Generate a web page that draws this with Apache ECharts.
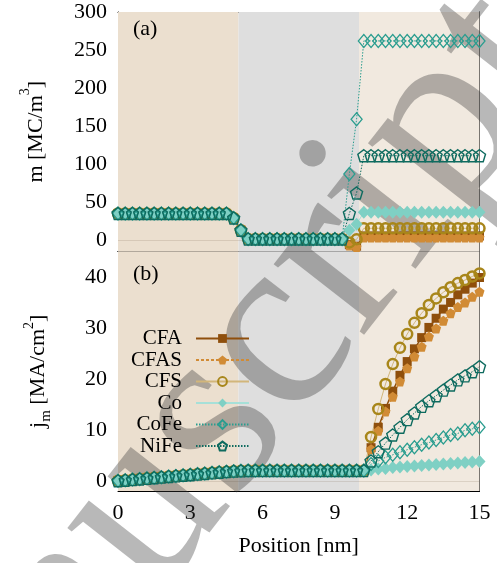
<!DOCTYPE html>
<html><head><meta charset="utf-8">
<script src="https://cdn.jsdelivr.net/npm/echarts@6/dist/echarts.min.js"></script>
<style>html,body{margin:0;padding:0;background:#fff}#c{width:497px;height:563px}</style>
</head><body><div id="c"></div>
<script>
// ---------- data ----------
const positions = [0,0.3,0.6,0.9,1.2,1.5,1.8,2.1,2.4,2.7,3,3.3,3.6,3.9,4.2,4.5,4.8,5.1,5.4,5.7,6,6.3,6.6,6.9,7.2,7.5,7.8,8.1,8.4,8.7,9,9.3,9.6,9.9,10.2,10.5,10.8,11.1,11.4,11.7,12,12.3,12.6,12.9,13.2,13.5,13.8,14.1,14.4,14.7,15];
const seriesNames = ['CFA','CFAS','CFS','Co','CoFe','NiFe'];

// panel (a): m [MC/m^3]
const mCFA  = [35,35,35,35,35,35,35,35,35,35,35,35,35,35,35,35,29,13,1.5,1.5,1.5,1.5,1.5,1.5,1.5,1.5,1.5,1.5,1.5,1.5,1.5,1.5,-6,-8,5.5,5.5,5.5,5.5,5.5,5.5,5.5,5.5,5.5,5.5,5.5,5.5,5.5,5.5,5.5,5.5,5.5];
const mCFAS = [35,35,35,35,35,35,35,35,35,35,35,35,35,35,35,35,29,13,1.5,1.5,1.5,1.5,1.5,1.5,1.5,1.5,1.5,1.5,1.5,1.5,1.5,1.5,-7,-9,3.5,3.5,3.5,3.5,3.5,3.5,3.5,3.5,3.5,3.5,3.5,3.5,3.5,3.5,3.5,3.5,3.5];
const mCFS  = [35,35,35,35,35,35,35,35,35,35,35,35,35,35,35,35,29,13,1.5,1.5,1.5,1.5,1.5,1.5,1.5,1.5,1.5,1.5,1.5,1.5,1.5,1.5,-3,1,15.5,15.5,15.5,15.5,15.5,15.5,15.5,15.5,15.5,15.5,15.5,15.5,15.5,15.5,15.5,15.5,15.5];
const mCo   = [35,35,35,35,35,35,35,35,35,35,35,35,35,35,35,35,29,13,1.5,1.5,1.5,1.5,1.5,1.5,1.5,1.5,1.5,1.5,1.5,1.5,1.5,1.5,13,21,36.5,36.5,36.5,36.5,36.5,36.5,36.5,36.5,36.5,36.5,36.5,36.5,36.5,36.5,36.5,36.5,36.5];
const mCoFe = [35,35,35,35,35,35,35,35,35,35,35,35,35,35,35,35,29,13,1.5,1.5,1.5,1.5,1.5,1.5,1.5,1.5,1.5,1.5,1.5,1.5,1.5,1.5,87,159,262,262,262,262,262,262,262,262,262,262,262,262,262,262,262,262,262];
const mNiFe = [35,35,35,35,35,35,35,35,35,35,35,35,35,35,35,35,29,13,1.5,1.5,1.5,1.5,1.5,1.5,1.5,1.5,1.5,1.5,1.5,1.5,1.5,1.5,35,62,111,111,111,111,111,111,111,111,111,111,111,111,111,111,111,111,111];

// panel (b): j_m [MA/cm^2]
const jCFA  = [0,0.12,0.24,0.36,0.48,0.6,0.72,0.84,0.96,1.08,1.2,1.32,1.44,1.56,1.68,1.8,1.9,1.95,2,2,2,2,2,2,2,2,2,2,2,2,2,2,2,2,2,6.5,10.5,14.2,17.6,20.7,23.4,25.9,28.1,30.1,31.9,33.7,35.0,36.5,37.6,38.8,39.9];
const jCFAS = [0,0.12,0.24,0.36,0.48,0.6,0.72,0.84,0.96,1.08,1.2,1.32,1.44,1.56,1.68,1.8,1.9,1.95,2,2,2,2,2,2,2,2,2,2,2,2,2,2,2,2,2,6.2,9.8,13.6,16.5,19.5,22.1,24.4,26.3,28.3,29.9,31.4,32.9,34.1,35.0,36.1,37.1];
const jCFS  = [0,0.12,0.24,0.36,0.48,0.6,0.72,0.84,0.96,1.08,1.2,1.32,1.44,1.56,1.68,1.8,1.9,1.95,2,2,2,2,2,2,2,2,2,2,2,2,2,2,2,2,2,8.6,14.1,19.0,22.9,26.1,28.8,31.0,32.9,34.5,35.8,37.0,38.0,38.8,39.4,40.1,40.7];
const jCo   = [0,0.12,0.24,0.36,0.48,0.6,0.72,0.84,0.96,1.08,1.2,1.32,1.44,1.56,1.68,1.8,1.9,1.95,2,2,2,2,2,2,2,2,2,2,2,2,2,2,2,2,2,2.1,2.3,2.4,2.6,2.7,2.8,2.9,3.0,3.1,3.2,3.3,3.4,3.5,3.6,3.7,3.8];
const jCoFe = [0,0.12,0.24,0.36,0.48,0.6,0.72,0.84,0.96,1.08,1.2,1.32,1.44,1.56,1.68,1.8,1.9,1.95,2,2,2,2,2,2,2,2,2,2,2,2,2,2,2,2,2,3.3,3.9,4.6,5.1,5.6,6.1,6.6,7.1,7.5,8.0,8.5,9.0,9.3,9.9,10.2,10.5];
const jNiFe = [0,0.12,0.24,0.36,0.48,0.6,0.72,0.84,0.96,1.08,1.2,1.32,1.44,1.56,1.68,1.8,1.9,1.95,2,2,2,2,2,2,2,2,2,2,2,2,2,2,2,2,2,3.9,5.7,7.4,9.0,10.5,12.0,13.3,14.6,15.7,16.7,17.8,18.8,19.8,20.6,21.4,22.4];

const xTickLabels = [0,3,6,9,12,15];
const yTickLabelsA = [0,50,100,150,200,250,300];
const yTickLabelsB = [0,10,20,30,40];
const regionBounds = [0,5,10,15];
const watermarkText = 'Manuscript';

// ---------- styles ----------
const FONT = 'Liberation Serif';
const PENT = 'path://M50,0 L97.55,34.55 L79.39,90.45 L20.61,90.45 L2.45,34.55 Z';
const regionColors = ['#ebdfcf','#dedede','#f1e9df'];
const styles = {
  CFA:  {symbol:'rect',    size:9,       fill:'#8f4f0c', border:'#8f4f0c', bw:0,   line:'#8f4f0c', lw:1.5, lt:'solid'},
  CFAS: {symbol:PENT,      size:10,      fill:'#d18b35', border:'#d18b35', bw:0,   line:'#d18b35', lw:1,   lt:[3,2]},
  CFS:  {symbol:'circle',  size:10,      fill:'rgba(0,0,0,0)', border:'#a8861a', bw:2.5, line:'#d2b67a', lw:1, lt:'solid'},
  Co:   {symbol:'diamond', size:[12,13], fill:'#7fd0c4', border:'#7fd0c4', bw:0,   line:'#a6e0d8', lw:1,   lt:'solid'},
  CoFe: {symbol:'diamond', size:[11,13], fill:'rgba(0,0,0,0)', border:'#2a9d8f', bw:1.3, line:'#2a9d8f', lw:1, lt:[1.5,1.5]},
  NiFe: {symbol:PENT,      size:12,      fill:'rgba(0,0,0,0)', border:'#0e6b5f', bw:1.4, line:'#0e6b5f', lw:1, lt:[1.5,1.5]}
};
const mData = {CFA:mCFA, CFAS:mCFAS, CFS:mCFS, Co:mCo, CoFe:mCoFe, NiFe:mNiFe};
const jData = {CFA:jCFA, CFAS:jCFAS, CFS:jCFS, Co:jCo, CoFe:jCoFe, NiFe:jNiFe};

const GRID_L = 118, GRID_W = 361.5;
const grids = [
  {left:GRID_L, top:12, width:GRID_W, height:239.5, outerBoundsMode:'none'},
  {left:GRID_L, top:251.5, width:GRID_W, height:239.5, outerBoundsMode:'none'}
];

const tick = {show:true, inside:true, length:5, lineStyle:{color:'#000', width:1}};
const axLine = {show:true, onZero:false, lineStyle:{color:'#000', width:1}};
const lbl = {color:'#000', fontFamily:FONT, fontSize:22};

function xAx(gi, pos, showLabels) {
  return {
    type:'value', gridIndex:gi, position:pos, min:0, max:15, interval:1.5,
    axisLine:axLine, axisTick:tick, splitLine:{show:false},
    axisLabel: showLabels ? Object.assign({show:true, margin:11, formatter:v => xTickLabels.includes(+v.toFixed(3)) ? String(+v.toFixed(3)) : ''}, lbl) : {show:false},
    name: (showLabels ? 'Position [nm]' : ''), nameLocation:'middle', nameGap:44,
    nameTextStyle:{color:'#000', fontFamily:FONT, fontSize:22}
  };
}
function yAx(gi, pos, min, max, split, labels, showLabels, name, nameGap, rich) {
  const o = {
    type:'value', gridIndex:gi, position:pos, min:min, max:max, splitNumber:split,
    axisLine:axLine, axisTick:tick, splitLine:{show:false},
    axisLabel: showLabels ? Object.assign({show:true, margin:11, formatter:v => labels.includes(v) ? String(v) : ''}, lbl) : {show:false}
  };
  if (name) {
    o.name = name; o.nameLocation = 'middle'; o.nameGap = nameGap; o.nameRotate = 90;
    o.nameTextStyle = {color:'#000', fontFamily:FONT, fontSize:22, rich:rich};
  }
  return o;
}
const richA = {
  t:{fontFamily:FONT, fontSize:22, lineHeight:29, verticalAlign:'bottom', color:'#000'},
  sup:{fontFamily:FONT, fontSize:14, verticalAlign:'top', color:'#000'}
};
const richB = {
  t:{fontFamily:FONT, fontSize:22, lineHeight:32, verticalAlign:'bottom', padding:[0,0,5,0], color:'#000'},
  sub:{fontFamily:FONT, fontSize:15, verticalAlign:'bottom', color:'#000'},
  sup:{fontFamily:FONT, fontSize:14, verticalAlign:'top', color:'#000'}
};

function bgMarkArea() {
  return {
    silent:true, z:1, label:{show:false},
    data: regionColors.map((c,i) => [{xAxis:regionBounds[i], itemStyle:{color:c}}, {xAxis:regionBounds[i+1]}])
  };
}
function zeroLine() {
  return {silent:true, symbol:'none', z:1, label:{show:false}, lineStyle:{color:'rgba(120,100,80,0.18)', type:'solid', width:1}, data:[{yAxis:0}]};
}

const series = [];
[mData, jData].forEach((src, gi) => {
  seriesNames.forEach((name, k) => {
    const s = styles[name];
    const o = {
      type:'line', name:name, xAxisIndex:gi*2, yAxisIndex:gi*2,
      data: positions.map((x,i) => [x, src[name][i]]),
      symbol:s.symbol, symbolSize:s.size, showSymbol:true, showAllSymbol:true,
      itemStyle:{color:s.fill, borderColor:s.border, borderWidth:s.bw},
      lineStyle:{color:s.line, width:s.lw, type:s.lt},
      emphasis:{disabled:true}, animation:false, clip:false, z:3
    };
    if (k === 0) { o.markArea = bgMarkArea(); o.markLine = zeroLine(); }
    series.push(o);
  });
});

const option = {
  backgroundColor:'#fff',
  animation:false,
  textStyle:{fontFamily:FONT},
  grid: grids,
  xAxis: [xAx(0,'bottom',false), xAx(0,'top',false), xAx(1,'bottom',true), xAx(1,'top',false)],
  yAxis: [
    yAx(0,'left',-15,300,6,yTickLabelsA,true,'{t|m [MC/m}{sup|3}{t|]}',71,richA),
    yAx(0,'right',-15,300,6,yTickLabelsA,false),
    yAx(1,'left',-2,45,9,yTickLabelsB,true,'{t|j}{sub|m}{t| [MA/cm}{sup|2}{t|]}',64,richB),
    yAx(1,'right',-2,45,9,yTickLabelsB,false)
  ],
  legend: {
    orient:'vertical', align:'right', right:247, top:328, padding:0, z:10,
    itemWidth:53, itemHeight:11, itemGap:0.5, selectedMode:false,
    data: seriesNames,
    textStyle:{color:'#000', fontFamily:FONT, fontSize:21, padding:[0,9,0,0]}
  },
  graphic: [
    {type:'text', left:133, top:18, z:10, silent:true, style:{text:'(a)', font:'22px "Liberation Serif"', fill:'#000'}},
    {type:'text', left:133, top:263, z:10, silent:true, style:{text:'(b)', font:'22px "Liberation Serif"', fill:'#000'}},
    {type:'text', x:-178, y:922, rotation:0.9076, z:2, silent:true,
     style:{text:watermarkText, font:'250px "Liberation Serif"', fill:'rgba(52,52,52,0.35)', align:'left', verticalAlign:'middle'}}
  ],
  series: series
};
const chart = echarts.init(document.getElementById('c'), null, {renderer:'canvas'});
chart.setOption(option);
</script></body></html>
